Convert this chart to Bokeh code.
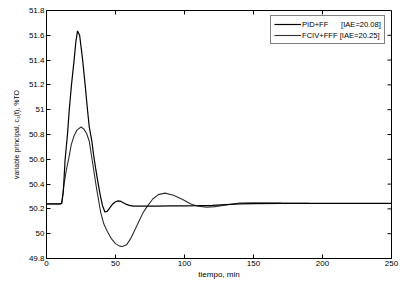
from bokeh.plotting import figure
from bokeh.models import Range1d, FixedTicker, Legend, LegendItem
from bokeh.embed import file_html
from bokeh.resources import INLINE

# Curve A: tall peak, fast damping (extends to 250)
t_a = [0, 5, 10, 11, 12, 12.5, 13.5, 15.2, 16.5, 18.1, 20, 21.3, 22.5, 24, 26, 28, 29.7,
       31, 32.8, 34.2, 35.7, 37.2, 38.8, 40.5, 42.3, 44, 46, 48, 50, 52, 54, 56, 58, 60, 63,
       70, 80, 90, 100, 110, 120, 130, 140, 150, 170, 190, 210, 230, 250]
y_a = [50.24, 50.24, 50.24, 50.245, 50.33, 50.4, 50.6, 50.8, 51.0, 51.2, 51.4, 51.55, 51.635, 51.6, 51.42, 51.2, 51.0,
       50.86, 50.75, 50.63, 50.52, 50.42, 50.32, 50.23, 50.175, 50.18, 50.21, 50.24, 50.258, 50.265, 50.26, 50.248, 50.236, 50.228, 50.223,
       50.222, 50.223, 50.224, 50.225, 50.226, 50.228, 50.234, 50.24, 50.243, 50.244, 50.244, 50.244, 50.244, 50.244]

# Curve B: smaller peak, large undershoot (ends near 190)
t_b = [0, 5, 10, 11, 12, 12.7, 14.5, 16, 18, 20, 22, 25, 27, 29, 30.9, 33.3, 36.2,
       39.3, 41.5, 44, 47, 50, 53, 55, 58, 61, 64, 67, 70, 73, 77, 81, 86, 92, 98, 105,
       110, 116, 122, 130, 140, 150, 170, 190]
y_b = [50.24, 50.24, 50.24, 50.245, 50.32, 50.4, 50.52, 50.6, 50.72, 50.79, 50.835, 50.86, 50.845, 50.81, 50.75, 50.58, 50.37,
       50.17, 50.08, 50.02, 49.96, 49.92, 49.9, 49.897, 49.91, 49.96, 50.03, 50.1, 50.17, 50.22, 50.28, 50.315, 50.327, 50.31, 50.28, 50.238,
       50.222, 50.214, 50.218, 50.232, 50.247, 50.25, 50.247, 50.245]

x_ticks = [0, 50, 100, 150, 200, 250]
y_ticks = [49.8, 50.0, 50.2, 50.4, 50.6, 50.8, 51.0, 51.2, 51.4, 51.6, 51.8]
y_tick_labels = ["49.8", "50", "50.2", "50.4", "50.6", "50.8", "51", "51.2", "51.4", "51.6", "51.8"]

NB = "\u00a0"
label_a = "PID+FF" + NB * 6 + "[IAE=20.08]"
label_b = "FCIV+FFF [IAE=20.25]"

FONT = "Liberation Sans"
X0, X1 = 0, 250
Y0, Y1 = 49.8, 51.8
FRAME_W, FRAME_H = 345, 248
TICK = 4  # px

p = figure(width=411, height=286, output_backend="svg", toolbar_location=None,
           x_range=Range1d(X0, X1), y_range=Range1d(Y0, Y1),
           min_border_left=46, min_border_right=20, min_border_top=10, min_border_bottom=28)
p.background_fill_color = "white"
p.border_fill_color = "white"
p.outline_line_color = "black"
p.outline_line_width = 1
p.grid.visible = False

rb = p.line(t_b, y_b, line_color="#2e2e2e", line_width=1.1)
ra = p.line(t_a, y_a, line_color="black", line_width=1.2)

def style_axis(ax):
    ax.major_tick_in = TICK
    ax.major_tick_out = 0
    ax.minor_tick_in = 0
    ax.minor_tick_out = 0
    ax.axis_line_color = "black"
    ax.major_tick_line_color = "black"
    ax.major_label_text_font = FONT
    ax.major_label_text_font_size = "8px"
    ax.major_label_text_color = "black"
    ax.major_label_standoff = 2
    ax.axis_label_text_font = FONT
    ax.axis_label_text_font_style = "normal"
    ax.axis_label_text_color = "black"

xa = p.xaxis[0]
xa.ticker = FixedTicker(ticks=x_ticks)
style_axis(xa)
xa.axis_label = "tiempo, min"
xa.axis_label_text_font_size = "8px"
xa.axis_label_standoff = 1

ya = p.yaxis[0]
ya.ticker = FixedTicker(ticks=y_ticks)
style_axis(ya)
ya.major_label_overrides = {v: s for v, s in zip(y_ticks, y_tick_labels)}
ya.axis_label = "variable principal, c\u2083(t), %TO"
ya.axis_label_text_font_size = "7px"
ya.axis_label_standoff = 6

# inward ticks on the top and right edges of the box (MATLAB style)
dy = TICK * (Y1 - Y0) / FRAME_H
dx = TICK * (X1 - X0) / FRAME_W
p.segment(x0=x_ticks, y0=[Y1] * len(x_ticks), x1=x_ticks, y1=[Y1 - dy] * len(x_ticks),
          line_color="black", line_width=1)
p.segment(x0=[X1] * len(y_ticks), y0=y_ticks, x1=[X1 - dx] * len(y_ticks), y1=y_ticks,
          line_color="black", line_width=1)

legend = Legend(items=[LegendItem(label=label_a, renderers=[ra]),
                       LegendItem(label=label_b, renderers=[rb])],
                location=(224, 214))
legend.label_text_font = FONT
legend.label_text_font_size = "7.6px"
legend.label_text_color = "black"
legend.glyph_width = 27
legend.glyph_height = 10
legend.label_height = 10
legend.label_standoff = 1
legend.spacing = 1
legend.padding = 3
legend.margin = 0
legend.border_line_color = "black"
legend.border_line_width = 1
legend.background_fill_alpha = 1
p.add_layout(legend)

open("out.html", "w").write(file_html(p, INLINE))
